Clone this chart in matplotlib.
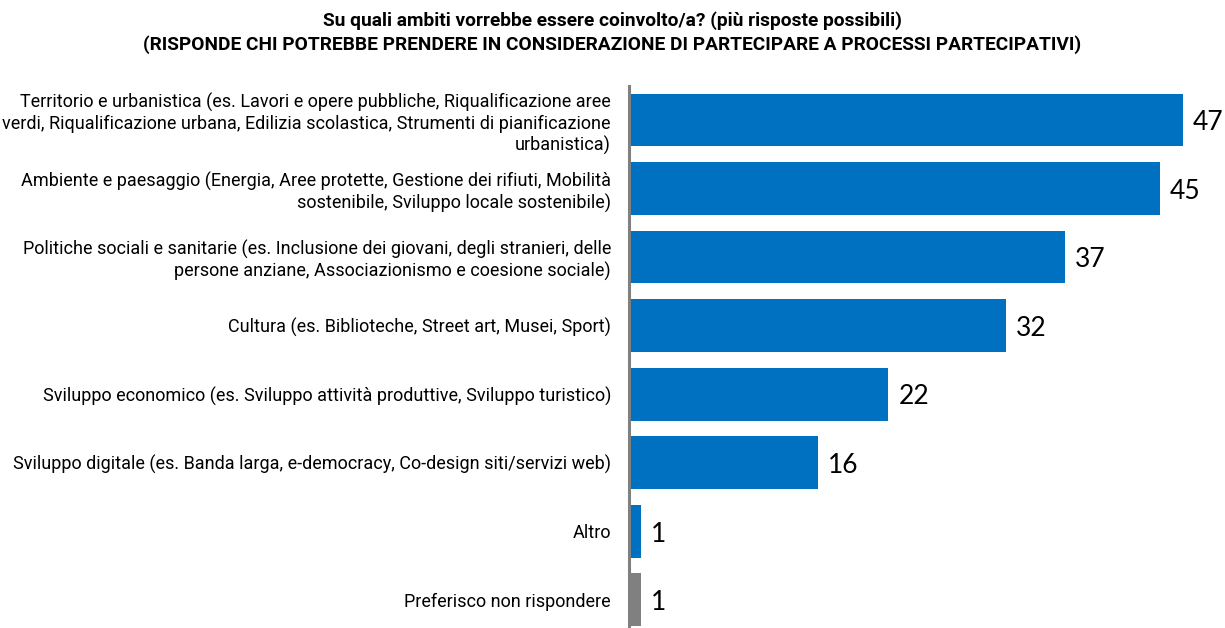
import matplotlib
matplotlib.use("Agg")
import matplotlib.pyplot as plt

categories = [
    "Territorio e urbanistica (es. Lavori e opere pubbliche, Riqualificazione aree\n"
    "verdi, Riqualificazione urbana, Edilizia scolastica, Strumenti di pianificazione\n"
    "urbanistica)",
    "Ambiente e paesaggio (Energia, Aree protette, Gestione dei rifiuti, Mobilità\n"
    "sostenibile, Sviluppo locale sostenibile)",
    "Politiche sociali e sanitarie (es. Inclusione dei giovani, degli stranieri, delle\n"
    "persone anziane, Associazionismo e coesione sociale)",
    "Cultura (es. Biblioteche, Street art, Musei, Sport)",
    "Sviluppo economico (es. Sviluppo attività produttive, Sviluppo turistico)",
    "Sviluppo digitale (es. Banda larga, e-democracy, Co-design siti/servizi web)",
    "Altro",
    "Preferisco non rispondere",
]
values = [47, 45, 37, 32, 22, 16, 1, 1]
colors = ["#0070C0"] * 7 + ["#808080"]

title = ("Su quali ambiti vorrebbe essere coinvolto/a? (più risposte possibili)\n"
         "(RISPONDE CHI POTREBBE PRENDERE IN CONSIDERAZIONE DI PARTECIPARE A PROCESSI PARTECIPATIVI)")

label_font = ["Roboto", "DejaVu Sans"]

fig = plt.figure(figsize=(12.25, 6.28), dpi=100)
ax = fig.add_axes([629 / 1225, 0.0, 50 * 11.79 / 1225, 1 - 85.7 / 628])

ypos = list(range(len(values)))
ax.barh(ypos, values, height=0.77, color=colors)
ax.set_ylim(7.41, -0.5)
ax.set_xlim(0, 50)

for y, v in zip(ypos, values):
    ax.text(v + 0.85, y + 0.04, str(v), va="center", ha="left", fontsize=19,
            family=["Lato", "DejaVu Sans"], color="#000000")

ax.set_yticks(ypos)
ax.set_yticklabels(categories, fontsize=13, family=label_font,
                   ha="right", linespacing=1.2)
ax.tick_params(axis="y", length=0, pad=13)
ax.set_xticks([])
for s in ("top", "right", "bottom"):
    ax.spines[s].set_visible(False)
ax.spines["left"].set_color("#808080")
ax.spines["left"].set_linewidth(2.2)

fig.text(0.5, 1 - 11 / 628, title, ha="center", va="top", fontsize=13.8,
         fontweight="bold", family=label_font, linespacing=1.4)

fig.savefig("out.png", dpi=100)
